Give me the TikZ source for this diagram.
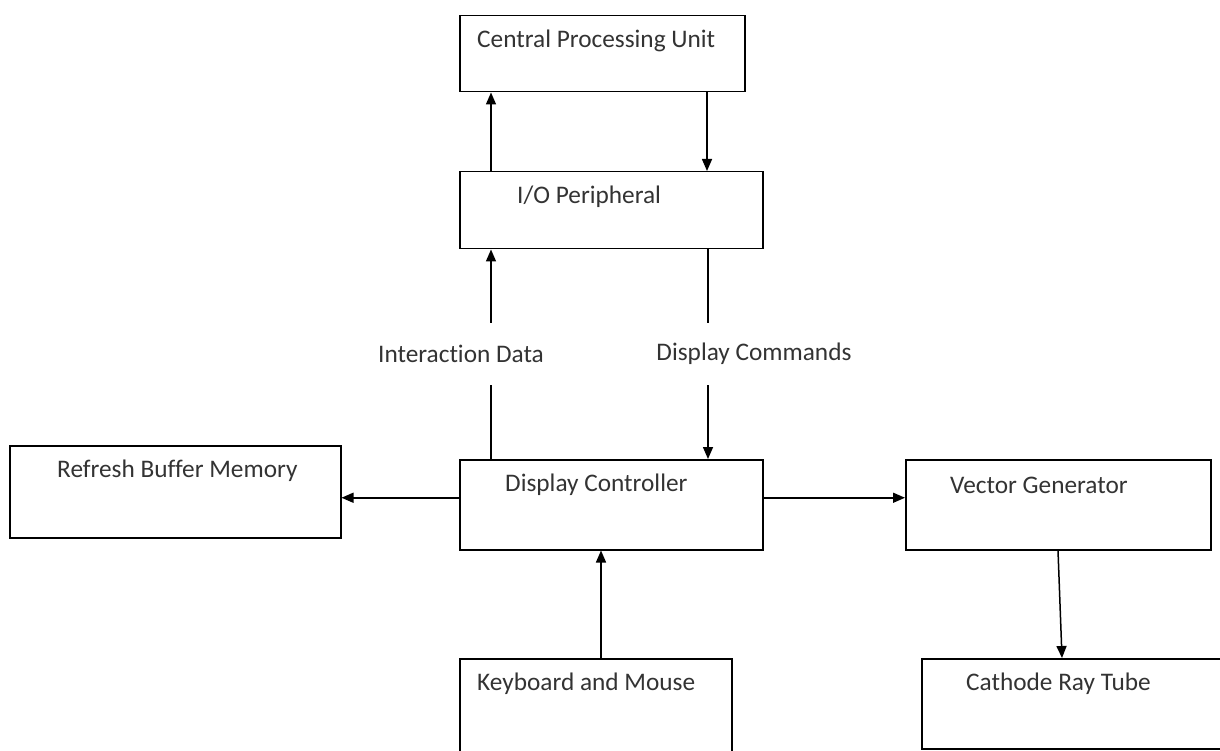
\documentclass[tikz,border=0pt]{standalone}
\usepackage{fontspec}
\setmainfont{Carlito}[Ligatures=NoCommon]
\usetikzlibrary{calc,arrows.meta}
\tikzset{x=1pt, y=-1pt,
    block/.style={draw=black, line width=1.5pt, inner sep=0pt, anchor=north west},
    block text/.style={anchor=west, inner sep=0pt, text=black!80,
          font=\fontsize{25.3}{30}\selectfont},
    flow/.style={draw=black, line width=1.5pt, -{Triangle[length=12pt,width=10pt]}},
    flow label/.style={block text, anchor=center, fill=white, minimum height=62pt}
    }
% name, left, top, width, height, text indent, text
\def\Block#1#2#3#4#5#6#7{%
 \node[block, minimum width=#4pt, minimum height=#5pt] (#1) at (#2,#3) {};
 \node[block text] (#1-text) at ($(#1.north west)+(#6,26)$) {#7};
}

\begin{document}
\begin{tikzpicture}
\clip (0,0) rectangle (1220,751);
\Block{cpu}{459}{15}{285}{76}{18}{Central Processing Unit}
\Block{io}{459}{171}{303}{77}{58}{I/O Peripheral}
\Block{rbm}{9}{445}{331}{92}{48}{Refresh Buffer Memory}
\Block{dc}{459}{459}{303}{90}{46}{Display Controller}
\Block{vg}{905}{459}{305}{90}{45}{Vector Generator}
\Block{km}{459}{658}{272}{110}{18}{Keyboard and Mouse}
\Block{crt}{921}{658}{320}{90}{45}{Cathode Ray Tube}

% cpu <-> i/o
\draw[flow] ([xshift=32pt]io.north west) -- ([xshift=32pt]cpu.south west);
\draw[flow] ([xshift=248pt]cpu.south west) -- ([xshift=248pt]cpu.south west |- io.north);
% i/o <-> display controller
\draw[flow] ([xshift=32pt]dc.north west) -- node[flow label, xshift=-30pt] {Interaction Data} ([xshift=32pt]io.south west);
\draw[flow] ([xshift=249pt]io.south west) -- node[flow label, xshift=46pt] {Display Commands} ([xshift=249pt]dc.north west);
% around the display controller
\draw[flow] ([xshift=142pt]km.north west) -- ([xshift=142pt]km.north west |- dc.south);
\draw[flow] ([yshift=7pt]dc.west) -- ([yshift=7pt]dc.west -| rbm.east);
\draw[flow] ([yshift=7pt]dc.east) -- ([yshift=7pt]dc.east -| vg.west);
\draw[flow] ([xshift=153pt]vg.south west) -- ([xshift=141pt]crt.north west);
\end{tikzpicture}
\end{document}
